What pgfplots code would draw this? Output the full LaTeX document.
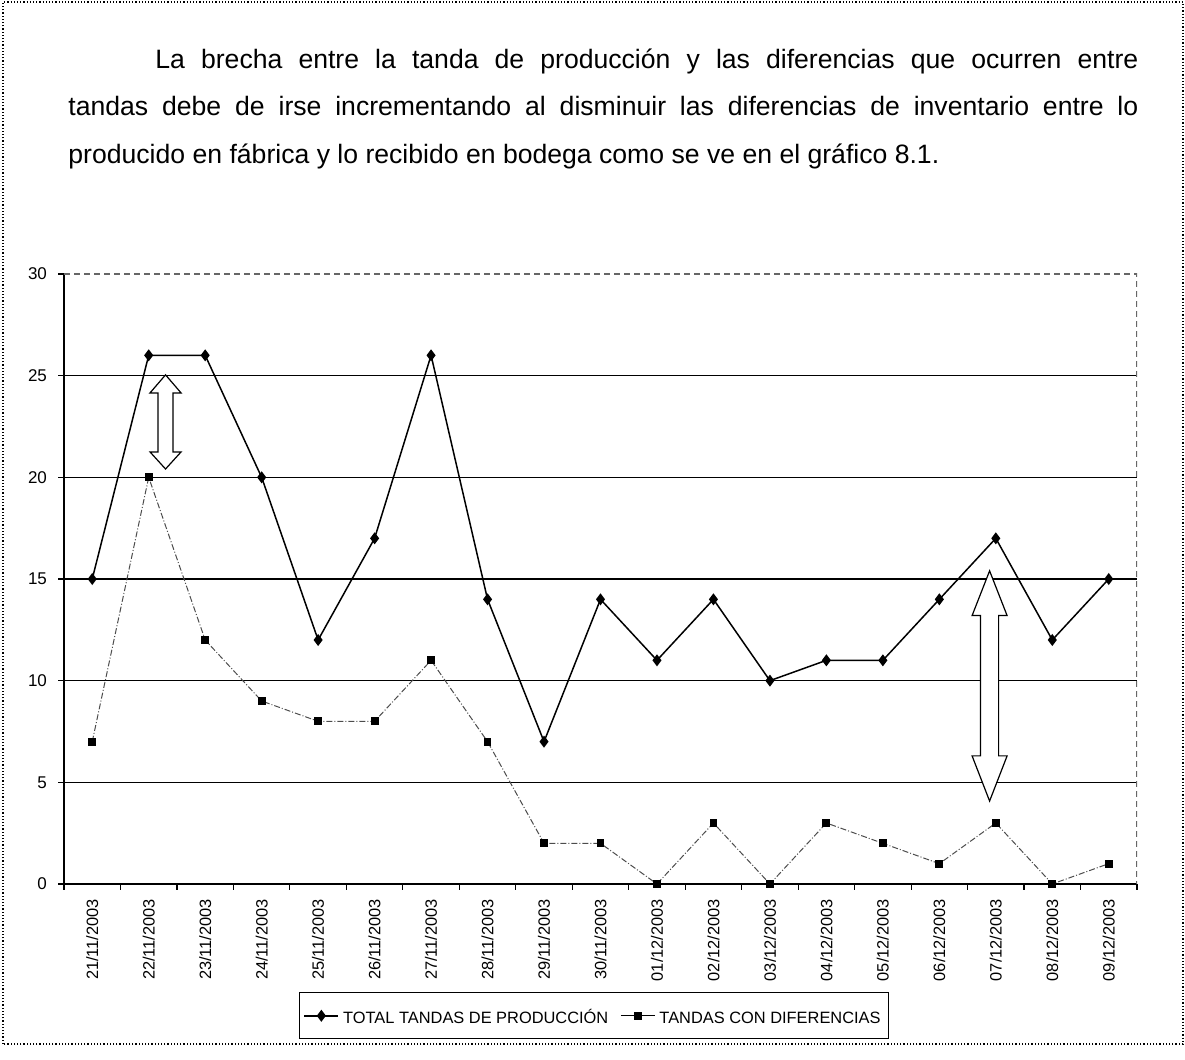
\documentclass[border=0pt]{standalone}
\usepackage{fontspec}
\setmainfont{Liberation Sans}
\usepackage{pgfplots}
\pgfplotsset{compat=1.18}
\begin{document}
\begin{tikzpicture}
\useasboundingbox (0pt,0pt) rectangle (592.5pt,530pt);
\draw[densely dotted, line width=0.6pt] (1.5pt,8pt) rectangle (591.5pt,529pt);
\node[anchor=base west, inner sep=0] at (77.5pt,495.5pt) {\fontsize{13.3}{16}\selectfont\makebox[491.5pt][s]{La brecha entre la tanda de producción y las diferencias que ocurren entre}};
\node[anchor=base west, inner sep=0] at (34pt,472pt) {\fontsize{13.3}{16}\selectfont\makebox[535pt][s]{tandas debe de irse incrementando al disminuir las diferencias de inventario entre lo}};
\node[anchor=base west, inner sep=0] at (34pt,448pt) {\fontsize{13.3}{16}\selectfont producido en fábrica y lo recibido en bodega como se ve en el gráfico 8.1.};
\begin{axis}[
  at={(32pt,88pt)}, anchor=south west, scale only axis,
  width=536.5pt, height=305pt,
  xmin=-0.5, xmax=18.5, ymin=0, ymax=30,
  axis lines=left, axis line style={-, line width=0.8pt},
  tick style={black, line width=0.6pt},
  ytick={0,5,...,25}, extra y ticks={30}, extra y tick style={grid=none},
  ymajorgrids, grid style={black, line width=0.8pt},
  ytick align=outside, xtick align=outside, major tick length=3pt,
  xtick={-0.5,0.5,...,18.5}, xticklabels={},
  extra x ticks={0,...,18},
  extra x tick labels={21/11/2003,22/11/2003,23/11/2003,24/11/2003,25/11/2003,26/11/2003,27/11/2003,28/11/2003,29/11/2003,30/11/2003,01/12/2003,02/12/2003,03/12/2003,04/12/2003,05/12/2003,06/12/2003,07/12/2003,08/12/2003,09/12/2003},
  extra x tick style={major tick length=0pt},
  xticklabel style={rotate=90, anchor=east, font=\fontsize{8.2}{9.6}\selectfont, xshift=-4pt},
  yticklabel style={font=\fontsize{8.5}{10}\selectfont, xshift=-2pt},
  /pgf/number format/assume math mode=true,
  legend columns=2,
  legend style={at={(axis description cs:0.494,-0.216)}, anchor=center, draw=black, line width=0.6pt,
    font=\fontsize{8.2}{9.6}\selectfont, inner xsep=2pt, inner ysep=3pt,
    nodes={text height=1.05em, text depth=0.25em},
    /tikz/every even column/.append style={column sep=4pt}},
]
\addplot[black, line width=0.75pt, mark=diamond*, mark size=2.4pt] coordinates {
(0,15) (1,26) (2,26) (3,20) (4,12) (5,17) (6,26) (7,14) (8,7) (9,14)
(10,11) (11,14) (12,10) (13,11) (14,11) (15,14) (16,17) (17,12) (18,15)};
\addlegendentry{TOTAL TANDAS DE PRODUCCIÓN}
\addplot[black!70, line width=0.5pt, densely dashdotted, mark=square*, mark size=1.7pt, mark options={solid, black},
  legend image post style={solid, black}] coordinates {
(0,7) (1,20) (2,12) (3,9) (4,8) (5,8) (6,11) (7,7) (8,2) (9,2)
(10,0) (11,3) (12,0) (13,3) (14,2) (15,1) (16,3) (17,0) (18,1)};
\addlegendentry{TANDAS CON DIFERENCIAS}
\draw[densely dashed, black!60, line width=0.6pt] (rel axis cs:0,1) -- (rel axis cs:1,1) -- (rel axis cs:1,0);
\draw[fill=white, line width=0.6pt] (axis cs:1.298,25.04) -- (axis cs:1.573,24.15) -- (axis cs:1.431,24.15) -- (axis cs:1.431,21.25) -- (axis cs:1.573,21.25) -- (axis cs:1.298,20.41) -- (axis cs:1.023,21.25) -- (axis cs:1.165,21.25) -- (axis cs:1.165,24.15) -- (axis cs:1.023,24.15) -- cycle;
\draw[fill=white, line width=0.6pt] (axis cs:15.89,15.4) -- (axis cs:16.20,13.2) -- (axis cs:16.05,13.2) -- (axis cs:16.05,6.3) -- (axis cs:16.20,6.3) -- (axis cs:15.89,4.08) -- (axis cs:15.58,6.3) -- (axis cs:15.73,6.3) -- (axis cs:15.73,13.2) -- (axis cs:15.58,13.2) -- cycle;
\end{axis}
\end{tikzpicture}
\end{document}
